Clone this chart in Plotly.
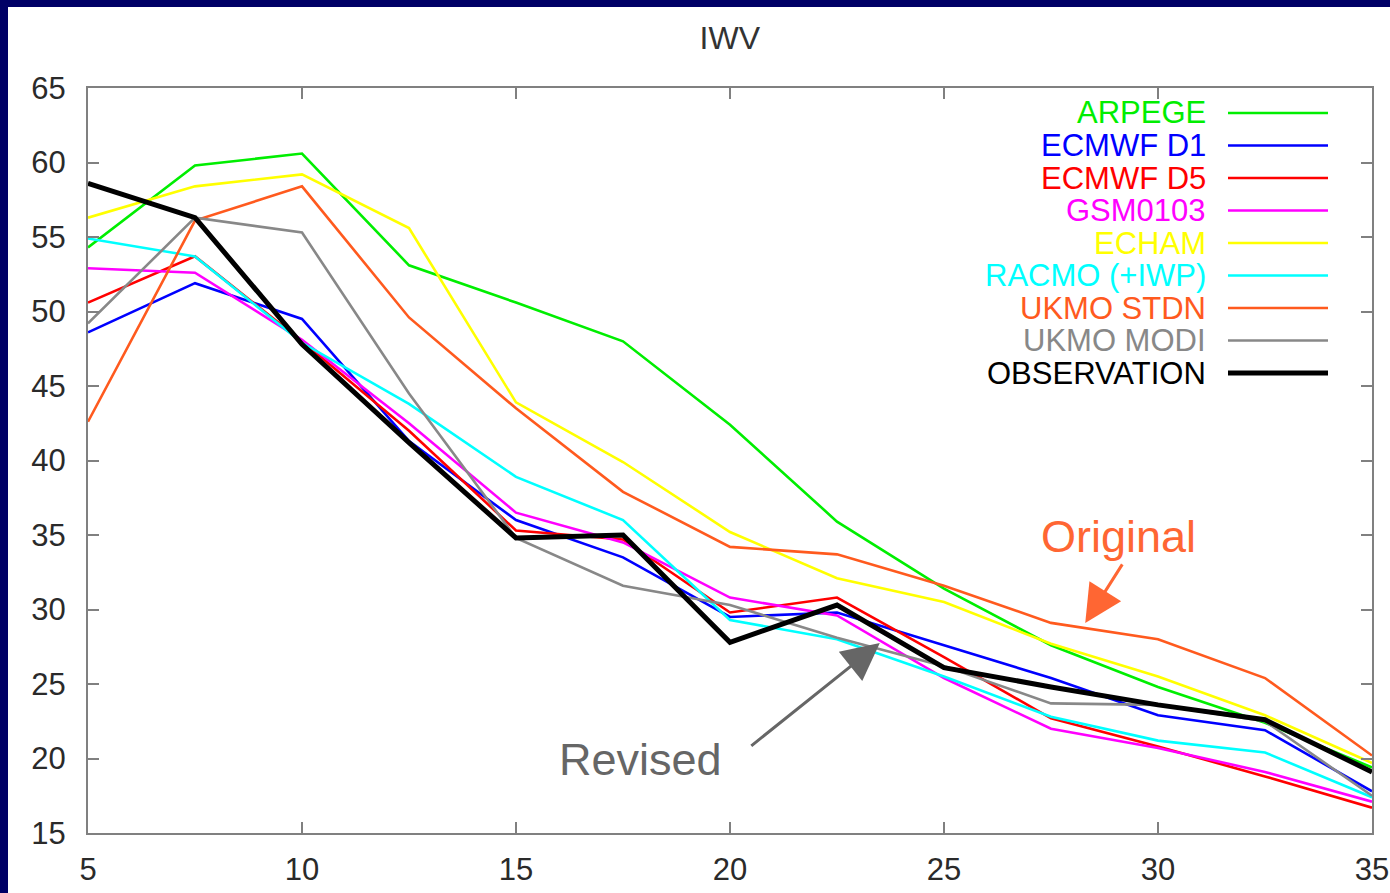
import plotly.graph_objects as go

# Latitude bins (x) and integrated water vapour per model
lat = [5, 7.5, 10, 12.5, 15, 17.5, 20, 22.5, 25, 27.5, 30, 32.5, 35]

arpege     = [54.3, 59.8, 60.6, 53.1, 50.6, 48.0, 42.4, 35.9, 31.4, 27.6, 24.8, 22.4, 19.4]
ecmwf_d1   = [48.6, 51.9, 49.5, 41.3, 36.0, 33.5, 29.5, 29.8, 27.6, 25.4, 22.9, 21.9, 17.8]
ecmwf_d5   = [50.6, 53.7, 48.0, 42.0, 35.3, 34.7, 29.8, 30.8, 26.8, 22.7, 20.8, 18.8, 16.7]
gsm0103    = [52.9, 52.6, 48.1, 42.5, 36.5, 34.5, 30.8, 29.6, 25.4, 22.0, 20.7, 19.1, 17.1]
echam      = [56.3, 58.4, 59.2, 55.6, 43.9, 39.9, 35.2, 32.1, 30.5, 27.7, 25.5, 22.9, 19.7]
racmo      = [54.9, 53.7, 47.9, 43.8, 38.9, 36.0, 29.3, 28.0, 25.5, 22.8, 21.2, 20.4, 17.4]
ukmo_stdn  = [42.6, 56.1, 58.4, 49.6, 43.5, 37.9, 34.2, 33.7, 31.6, 29.1, 28.0, 25.4, 20.2]
ukmo_modi  = [49.2, 56.3, 55.3, 44.5, 34.8, 31.6, 30.3, 28.1, 26.2, 23.7, 23.6, 22.5, 17.5]
observation = [58.6, 56.3, 47.8, 41.2, 34.8, 35.0, 27.8, 30.3, 26.1, 24.8, 23.6, 22.6, 19.1]

series_names = ["ARPEGE", "ECMWF D1", "ECMWF D5", "GSM0103", "ECHAM",
                "RACMO (+IWP)", "UKMO STDN", "UKMO MODI", "OBSERVATION"]
series_values = [arpege, ecmwf_d1, ecmwf_d5, gsm0103, echam,
                 racmo, ukmo_stdn, ukmo_modi, observation]
series_colors = ["#00ee00", "#0000ff", "#ff0000", "#ff00ff", "#ffff00",
                 "#00ffff", "#ff5a1e", "#888888", "#000000"]
series_widths = [2.6, 2.6, 2.6, 2.6, 2.6, 2.6, 2.6, 2.6, 5]

x_ticks = [5, 10, 15, 20, 25, 30, 35]
y_ticks = [15, 20, 25, 30, 35, 40, 45, 50, 55, 60, 65]

FONT = "Liberation Sans, Arial, Helvetica, sans-serif"

fig = go.Figure()

# Draw the observation last so it sits on top
for name, vals, col, w in zip(series_names, series_values, series_colors, series_widths):
    fig.add_trace(go.Scatter(x=lat, y=vals, mode="lines", name=name,
                             line=dict(color=col, width=w), showlegend=False))

# Plot area geometry in pixels (for the hand-made legend)
W, H = 1390, 893
ml, mr, mt, mb = 88, 18, 88, 60
pw, ph = W - ml - mr, H - mt - mb

def px_x(p):
    return (p - ml) / pw

def px_y(p):
    return (H - mb - p) / ph

shapes = []
annotations = []

# White page on a navy slide background
shapes.append(dict(type="rect", xref="paper", yref="paper", layer="below",
                   x0=px_x(8), x1=px_x(W + 5), y0=px_y(H + 5), y1=px_y(7),
                   fillcolor="white", line=dict(width=0)))

# Legend: right-aligned coloured labels followed by a line sample
row0, row_step = 113, 32.5
for i, (name, col, w) in enumerate(zip(series_names, series_colors, series_widths)):
    yy = px_y(row0 + i * row_step)
    annotations.append(dict(xref="paper", yref="paper", x=px_x(1208), y=yy,
                            xanchor="right", yanchor="middle", showarrow=False,
                            text=name, font=dict(family=FONT, size=31, color=col)))
    shapes.append(dict(type="line", xref="paper", yref="paper",
                       x0=px_x(1228), x1=px_x(1328), y0=yy, y1=yy,
                       line=dict(color=col, width=w)))

# Callouts
annotations.append(dict(x=29.07, y=34.9, xref="x", yref="y", text="Original",
                        showarrow=False, xanchor="center", yanchor="middle",
                        font=dict(family=FONT, size=45, color="#ff6633")))
annotations.append(dict(x=28.3, y=29.1, xref="x", yref="y", text="",
                        showarrow=True, ax=38, ay=-60, arrowhead=2,
                        arrowwidth=3, arrowsize=2.5, arrowcolor="#ff6633", standoff=0))
annotations.append(dict(x=17.9, y=19.9, xref="x", yref="y", text="Revised",
                        showarrow=False, xanchor="center", yanchor="middle",
                        font=dict(family=FONT, size=45, color="#666666")))
annotations.append(dict(x=23.5, y=27.75, xref="x", yref="y", text="",
                        showarrow=True, ax=-130, ay=104, arrowhead=2,
                        arrowwidth=3, arrowsize=2.5, arrowcolor="#666666", standoff=0))

axis_common = dict(showgrid=False, zeroline=False, showline=True, mirror="ticks",
                   linecolor="#808080", linewidth=2, ticks="inside", ticklen=11,
                   tickwidth=2, tickcolor="#808080", automargin=False,
                   tickfont=dict(family=FONT, size=31, color="#2a2a2a"))

fig.update_layout(
    width=W, height=H,
    margin=dict(l=ml, r=mr, t=mt, b=mb, pad=0),
    paper_bgcolor="#000066", plot_bgcolor="white",
    title=dict(text="IWV", x=0.525, xanchor="center", y=1 - 38 / H, yanchor="middle",
               font=dict(family=FONT, size=32, color="#333333")),
    xaxis=dict(range=[5, 35], tickvals=x_ticks, ticklabelstandoff=8, **axis_common),
    yaxis=dict(range=[15, 65], tickvals=y_ticks, ticklabelstandoff=14, **axis_common),
    shapes=shapes,
    annotations=annotations,
    showlegend=False,
)

fig.write_html("out.html")
